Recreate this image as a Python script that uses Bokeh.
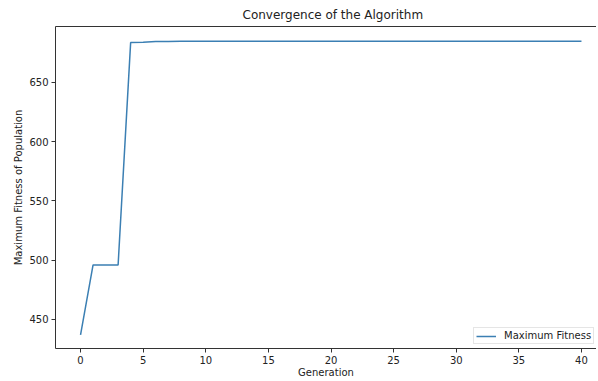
from bokeh.plotting import figure
from bokeh.models import Range1d, LinearAxis, FixedTicker
from bokeh.embed import file_html
from bokeh.resources import INLINE

generations = list(range(0, 41))
max_fitness = [437.0, 496.0, 496.0, 496.0, 683.6, 683.9, 684.5, 684.6, 684.7, 684.8,
               684.8, 684.8, 684.8, 684.8, 684.8, 684.8, 684.8, 684.8, 684.8, 684.8,
               684.8, 684.8, 684.8, 684.8, 684.8, 684.8, 684.8, 684.8, 684.8, 684.8,
               684.8, 684.8, 684.8, 684.8, 684.8, 684.8, 684.8, 684.8, 684.8, 684.8,
               684.8]
x_ticks = [0, 5, 10, 15, 20, 25, 30, 35, 40]
y_ticks = [450, 500, 550, 600, 650]

FONT = "DejaVu Sans"
AX = "#333333"

p = figure(frame_width=541, frame_height=322,
           x_range=Range1d(-2.0, 41.2), y_range=Range1d(425.5, 697.2),
           output_backend="svg", toolbar_location=None,
           min_border_left=55, min_border_right=0, min_border_top=4, min_border_bottom=0)

p.title.text = "Convergence of the Algorithm"
p.title.align = "left"
p.title.offset = 187
p.title.text_font = FONT
p.title.text_font_size = "12px"
p.title.text_font_style = "normal"
p.title.text_color = "#222222"

p.grid.visible = False
p.outline_line_color = None
p.background_fill_color = "white"
p.border_fill_color = "white"

p.line(generations, max_fitness, line_color="#3b7fb3", line_width=1.5,
       legend_label="Maximum Fitness")

for ax in (p.xaxis[0], p.yaxis[0]):
    ax.axis_line_color = AX
    ax.major_tick_line_color = AX
    ax.minor_tick_line_color = None
    ax.major_tick_in = 0
    ax.major_tick_out = 4
    ax.major_label_text_font = FONT
    ax.major_label_text_font_size = "10px"
    ax.major_label_text_color = "#222222"
    ax.axis_label_text_font = FONT
    ax.axis_label_text_font_size = "10px"
    ax.axis_label_text_font_style = "normal"
    ax.axis_label_text_color = "#222222"
    ax.major_label_standoff = 3

p.xaxis[0].ticker = FixedTicker(ticks=x_ticks)
p.yaxis[0].ticker = FixedTicker(ticks=y_ticks)
p.xaxis[0].axis_label = "Generation"
p.yaxis[0].axis_label = "Maximum Fitness of Population"
p.xaxis[0].axis_label_standoff = 0
p.yaxis[0].axis_label_standoff = 2

top = LinearAxis(axis_line_color=AX, major_tick_line_color=None, minor_tick_line_color=None,
                 major_label_text_font_size="0px", major_label_text_alpha=0,
                 ticker=FixedTicker(ticks=[]))
p.add_layout(top, "above")

lg = p.legend[0]
lg.location = (418, 4)
lg.label_text_font = FONT
lg.label_text_font_size = "10px"
lg.label_text_color = "#222222"
lg.glyph_width = 20
lg.glyph_height = 10
lg.label_height = 10
lg.label_standoff = 8
lg.padding = 2
lg.margin = 0
lg.spacing = 0
lg.border_line_color = "#cccccc"
lg.background_fill_alpha = 0.8

open("out.html", "w").write(file_html(p, INLINE))
